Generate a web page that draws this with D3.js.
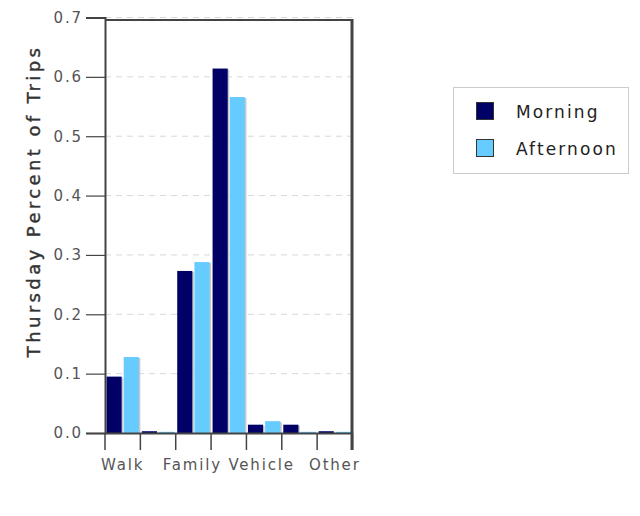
<!DOCTYPE html>
<html><head><meta charset="utf-8">
<script src="https://cdn.jsdelivr.net/npm/d3@7"></script>
<style>body{margin:0;background:#fff}svg{display:block}text{font-family:"DejaVu Sans",sans-serif}</style>
</head><body><svg id="c" width="640" height="516"></svg>
<script>
const categories = ["c0","c1","c2","c3","c4","c5","c6"];
const tickLabels = ["Walk","","","Family Vehicle","","","Other"];
const seriesNames = ["Morning","Afternoon"];
const morning = [0.095, 0.003, 0.273, 0.614, 0.014, 0.014, 0.003];
const afternoon = [0.128, 0.002, 0.288, 0.566, 0.020, 0.002, 0.002];
const yTicks = [0,0.1,0.2,0.3,0.4,0.5,0.6,0.7];
const colors = ["#000066","#66ccff"];

const svg = d3.select("#c");
const x = d3.scaleBand().domain(categories).range([105,352.5]).padding(0);
const xs = d3.scaleBand().domain(seriesNames).range([1.5, x.bandwidth()-1.5]).paddingInner(0.12);
const y = d3.scaleLinear().domain([0,0.7]).range([433,17.5]);

// grid
svg.append("g").selectAll("line").data(yTicks.slice(1)).join("line")
  .attr("x1",105).attr("x2",352).attr("y1",d=>y(d)).attr("y2",d=>y(d))
  .attr("stroke","#d3d9df").attr("stroke-dasharray","6,5").attr("stroke-width",1);

// bars
const data = categories.map((c,i)=>({c, vals:[morning[i],afternoon[i]]}));
const g = svg.append("g");
data.forEach(d=>{
  d.vals.forEach((v,j)=>{
    const bx = x(d.c)+xs(seriesNames[j]);
    g.append("rect").attr("x",bx+1.5).attr("y",y(v)+1).attr("width",xs.bandwidth()).attr("height",Math.max(0,y(0)-y(v)-1)).attr("fill","#c8c8c8");
    g.append("rect").attr("x",bx).attr("y",y(v)).attr("width",xs.bandwidth()).attr("height",y(0)-y(v)).attr("fill",colors[j]);
  });
});

// frame
svg.append("line").attr("x1",105).attr("x2",352).attr("y1",y(0.7)+2.5).attr("y2",y(0.7)+2.5).attr("stroke","#444").attr("stroke-width",2);
svg.append("line").attr("x1",352).attr("x2",352).attr("y1",y(0.7)+1.5).attr("y2",450).attr("stroke","#444").attr("stroke-width",3);

// y axis
const ya = svg.append("g").attr("transform","translate(105,0)")
  .call(d3.axisLeft(y).tickValues(yTicks).tickFormat(d3.format(".1f")).tickSize(19).tickPadding(3));
ya.select(".domain").attr("stroke","#444").attr("stroke-width",2);
ya.selectAll(".tick line").attr("stroke","#444").attr("stroke-width",1.2);
ya.selectAll(".tick text").attr("fill","#555").style("font-size","15px").style("letter-spacing","1.9px").attr("font-family","DejaVu Sans");

// x axis
const xa = svg.append("g").attr("transform","translate(0,433)")
  .call(d3.axisBottom(x).tickSize(0).tickFormat((d,i)=>tickLabels[i]).tickPadding(26));
xa.select(".domain").attr("stroke","#444").attr("stroke-width",2);
xa.selectAll(".tick text").attr("fill","#555").style("font-size","15px").style("letter-spacing","1.8px").attr("font-family","DejaVu Sans");
const bounds = categories.map(c=>x(c)).concat([x.range()[1]]);
xa.selectAll(".bt").data(bounds).join("line").attr("class","bt")
  .attr("x1",d=>d).attr("x2",d=>d).attr("y1",0).attr("y2",17).attr("stroke","#444").attr("stroke-width",1.5);

// y title
svg.append("text").attr("transform","translate(40,201) rotate(-90)").attr("text-anchor","middle")
  .style("font-size","18px").style("letter-spacing","3.4px").attr("fill","#333").attr("stroke","#333").attr("stroke-width",0.4)
  .text("Thursday Percent of Trips");

// legend
const lg = svg.append("g");
lg.append("rect").attr("x",453.5).attr("y",87.5).attr("width",175).attr("height",86).attr("fill","#fff").attr("stroke","#ccc");
seriesNames.forEach((s,i)=>{
  lg.append("rect").attr("x",476.5).attr("y",102.5+i*37).attr("width",17).attr("height",17).attr("fill",colors[i]).attr("stroke","#333");
  lg.append("text").attr("x",516).attr("y",117.5+i*37).text(s).style("font-size","17px").style("letter-spacing","2.1px").attr("fill","#222");
});
</script></body></html>
